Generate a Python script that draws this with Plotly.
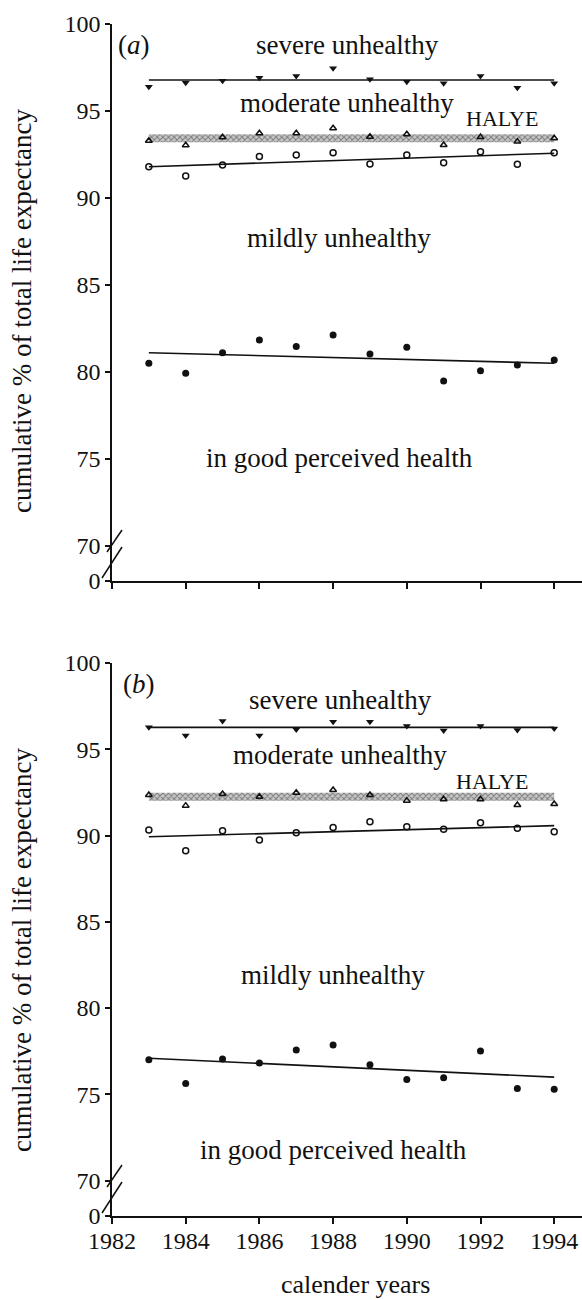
import plotly.graph_objects as go

# ---------------- data ----------------
years = [1983, 1984, 1985, 1986, 1987, 1988, 1989, 1990, 1991, 1992, 1993, 1994]
trend_years = [1983, 1994]

# panel (a)
a_severe = [96.40, 96.63, 96.74, 96.91, 97.01, 97.45, 96.82, 96.68, 96.59, 97.01, 96.34, 96.59]
a_moderate = [93.29, 93.03, 93.49, 93.72, 93.72, 94.01, 93.52, 93.66, 93.05, 93.50, 93.24, 93.43]
a_mild = [91.80, 91.26, 91.90, 92.38, 92.47, 92.60, 91.95, 92.47, 92.03, 92.66, 91.94, 92.60]
a_good = [80.50, 79.93, 81.11, 81.84, 81.46, 82.13, 81.03, 81.42, 79.48, 80.07, 80.40, 80.69]
a_severe_trend = [96.78, 96.78]
a_mild_trend = [91.80, 92.57]
a_good_trend = [81.11, 80.50]
a_halye_low = [93.20, 93.20]
a_halye_high = [93.66, 93.66]

# panel (b)
b_severe = [96.27, 95.79, 96.64, 95.79, 96.15, 96.60, 96.60, 96.35, 96.08, 96.35, 96.12, 96.21]
b_moderate = [92.35, 91.73, 92.41, 92.25, 92.48, 92.64, 92.35, 92.02, 92.10, 92.10, 91.77, 91.83]
b_mild = [90.32, 89.12, 90.28, 89.74, 90.16, 90.47, 90.80, 90.51, 90.36, 90.74, 90.42, 90.22]
b_good = [77.00, 75.63, 77.05, 76.81, 77.57, 77.85, 76.71, 75.86, 75.95, 77.51, 75.34, 75.29]
b_severe_trend = [96.27, 96.27]
b_mild_trend = [89.93, 90.57]
b_good_trend = [77.09, 75.99]
b_halye_low = [92.02, 92.02]
b_halye_high = [92.48, 92.48]

x_ticks = [1982, 1984, 1986, 1988, 1990, 1992, 1994]
x_ticklabels = ["1982", "1984", "1986", "1988", "1990", "1992", "1994"]
y_ticks = [70, 75, 80, 85, 90, 95, 100]
y_ticklabels = ["0", "70", "75", "80", "85", "90", "95", "100"]

y_title = "cumulative % of total life expectancy"
x_title = "calender years"

# ---------------- layout geometry ----------------
W, H = 582, 1300
ML, MR, MT, MB = 112, 0, 24, 84
PW = W - ML - MR
PH = H - MT - MB
top_px = (24, 581)     # pixel y of 100 and of bottom axis, panel a
bot_px = (663, 1216)   # panel b


def pyp(py):
    return (MT + PH - py) / PH


def pxp(px):
    return (px - ML) / PW


FONT = "Liberation Serif, Times New Roman, serif"
BLACK = "#111"

a_ymin = 100 - (top_px[1] - top_px[0]) / 17.4
b_ymin = 100 - (bot_px[1] - bot_px[0]) / 17.25

fig = go.Figure()


def add_panel(xa, ya, severe, moderate, mild, good, sev_t, mild_t, good_t, hl, hh):
    fig.add_trace(go.Scatter(x=trend_years, y=hl, mode="lines", line=dict(width=0),
                             xaxis=xa, yaxis=ya, showlegend=False, hoverinfo="skip"))
    fig.add_trace(go.Scatter(x=trend_years, y=hh, mode="lines", line=dict(width=0),
                             fill="tonexty", fillcolor="#c4c4c4",
                             fillpattern=dict(shape="x", fgcolor="#333", bgcolor="#c8c8c8",
                                              size=4, solidity=0.45),
                             xaxis=xa, yaxis=ya, showlegend=False, hoverinfo="skip"))
    for t in (sev_t, mild_t, good_t):
        fig.add_trace(go.Scatter(x=trend_years, y=t, mode="lines",
                                 line=dict(color=BLACK, width=1.6),
                                 xaxis=xa, yaxis=ya, showlegend=False))
    fig.add_trace(go.Scatter(x=years, y=severe, mode="markers",
                             marker=dict(symbol="triangle-down", size=7, color=BLACK),
                             xaxis=xa, yaxis=ya, showlegend=False))
    fig.add_trace(go.Scatter(x=years, y=moderate, mode="markers",
                             marker=dict(symbol="triangle-up-open", size=6, color=BLACK,
                                         line=dict(width=1.5, color=BLACK)),
                             xaxis=xa, yaxis=ya, showlegend=False))
    fig.add_trace(go.Scatter(x=years, y=mild, mode="markers",
                             marker=dict(symbol="circle-open", size=6, color=BLACK,
                                         line=dict(width=1.5, color=BLACK)),
                             xaxis=xa, yaxis=ya, showlegend=False))
    fig.add_trace(go.Scatter(x=years, y=good, mode="markers",
                             marker=dict(symbol="circle", size=7, color=BLACK),
                             xaxis=xa, yaxis=ya, showlegend=False))


add_panel("x", "y", a_severe, a_moderate, a_mild, a_good,
          a_severe_trend, a_mild_trend, a_good_trend, a_halye_low, a_halye_high)
add_panel("x2", "y2", b_severe, b_moderate, b_mild, b_good,
          b_severe_trend, b_mild_trend, b_good_trend, b_halye_low, b_halye_high)

xr = [1982, 1982 + PW / 36.85]
common_x = dict(range=xr, tickvals=x_ticks, ticktext=x_ticklabels, showline=True,
                linecolor=BLACK, linewidth=1.5, ticks="outside", ticklen=6, tickwidth=1.5,
                tickcolor=BLACK, showgrid=False, zeroline=False, ticklabelstandoff=-4,
                tickfont=dict(family=FONT, size=24, color=BLACK))
common_y = dict(showline=True, linecolor=BLACK, linewidth=1.5, ticks="outside", ticklen=5,
                tickwidth=1.5, tickcolor=BLACK, showgrid=False, zeroline=False,
                tickfont=dict(family=FONT, size=24, color=BLACK))

fig.update_layout(
    width=W, height=H, margin=dict(l=ML, r=MR, t=MT, b=MB),
    paper_bgcolor="white", plot_bgcolor="white",
    font=dict(family=FONT, color=BLACK),
    xaxis=dict(common_x, anchor="y", showticklabels=False),
    yaxis=dict(common_y, anchor="x", domain=[pyp(top_px[1]), pyp(top_px[0])],
               range=[a_ymin, 100], tickvals=[a_ymin + 1e-4] + y_ticks, ticktext=y_ticklabels),
    xaxis2=dict(common_x, anchor="y2"),
    yaxis2=dict(common_y, anchor="x2", domain=[pyp(bot_px[1]), pyp(bot_px[0])],
                range=[b_ymin, 100], tickvals=[b_ymin + 1e-4] + y_ticks, ticktext=y_ticklabels),
)

ann = []


def txt(text, x, y, xr_, yr_, size=27, xanchor="center"):
    ann.append(dict(text=text, x=x, y=y, xref=xr_, yref=yr_, showarrow=False,
                    xanchor=xanchor, yanchor="middle",
                    font=dict(family=FONT, size=size, color=BLACK)))


# panel a labels
txt("(<i>a</i>)", 1982.1, 98.8, "x", "y", xanchor="left")
txt("severe unhealthy", 1988.39, 98.8, "x", "y")
txt("moderate unhealthy", 1988.39, 95.46, "x", "y")
txt("HALYE", 1992.57, 94.55, "x", "y", size=22)
txt("mildly unhealthy", 1988.17, 87.7, "x", "y")
txt("in good perceived health", 1988.17, 75.06, "x", "y")
# panel b labels
txt("(<i>b</i>)", 1982.25, 98.78, "x2", "y2", xanchor="left")
txt("severe unhealthy", 1988.2, 97.86, "x2", "y2")
txt("moderate unhealthy", 1988.2, 94.67, "x2", "y2")
txt("HALYE", 1992.3, 93.15, "x2", "y2", size=22)
txt("mildly unhealthy", 1988.0, 81.9, "x2", "y2")
txt("in good perceived health", 1988.0, 71.77, "x2", "y2")

# axis titles
for cy in (311, 950):
    ann.append(dict(text=y_title, x=pxp(22), y=pyp(cy), xref="paper", yref="paper",
                    showarrow=False, textangle=-90, xanchor="center", yanchor="middle",
                    font=dict(family=FONT, size=27, color=BLACK)))
ann.append(dict(text=x_title, x=pxp(355), y=pyp(1284), xref="paper", yref="paper",
                showarrow=False, xanchor="center", yanchor="middle",
                font=dict(family=FONT, size=26, color=BLACK)))

fig.update_layout(annotations=ann)

# axis break marks
shapes = []
for off in (0, 635):
    for (x0, y0, x1, y1) in ((107, 552, 122, 530), (102, 578, 122, 547)):
        shapes.append(dict(type="line", xref="paper", yref="paper",
                           x0=pxp(x0), y0=pyp(y0 + off), x1=pxp(x1), y1=pyp(y1 + off),
                           line=dict(color=BLACK, width=1.5)))
fig.update_layout(shapes=shapes)

fig.write_html("out.html", config={"displayModeBar": False},
               post_script="document.body.style.margin='0';document.body.style.padding='0';")
